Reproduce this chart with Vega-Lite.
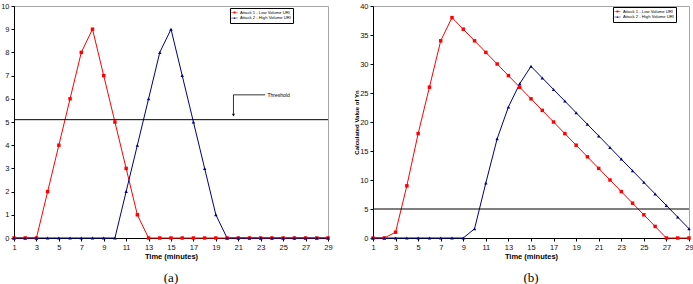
{
  "$schema": "https://vega.github.io/schema/vega-lite/v6.json",
  "padding": {"left": 0, "top": 1, "right": 0, "bottom": 0},
  "background": "white",
  "datasets": {
    "a": [
      {"t": 1, "series": "Attack 1 - Low Volume URI", "v": 0},
      {"t": 2, "series": "Attack 1 - Low Volume URI", "v": 0},
      {"t": 3, "series": "Attack 1 - Low Volume URI", "v": 0},
      {"t": 4, "series": "Attack 1 - Low Volume URI", "v": 2},
      {"t": 5, "series": "Attack 1 - Low Volume URI", "v": 4},
      {"t": 6, "series": "Attack 1 - Low Volume URI", "v": 6},
      {"t": 7, "series": "Attack 1 - Low Volume URI", "v": 8},
      {"t": 8, "series": "Attack 1 - Low Volume URI", "v": 9},
      {"t": 9, "series": "Attack 1 - Low Volume URI", "v": 7},
      {"t": 10, "series": "Attack 1 - Low Volume URI", "v": 5},
      {"t": 11, "series": "Attack 1 - Low Volume URI", "v": 3},
      {"t": 12, "series": "Attack 1 - Low Volume URI", "v": 1},
      {"t": 13, "series": "Attack 1 - Low Volume URI", "v": 0},
      {"t": 14, "series": "Attack 1 - Low Volume URI", "v": 0},
      {"t": 15, "series": "Attack 1 - Low Volume URI", "v": 0},
      {"t": 16, "series": "Attack 1 - Low Volume URI", "v": 0},
      {"t": 17, "series": "Attack 1 - Low Volume URI", "v": 0},
      {"t": 18, "series": "Attack 1 - Low Volume URI", "v": 0},
      {"t": 19, "series": "Attack 1 - Low Volume URI", "v": 0},
      {"t": 20, "series": "Attack 1 - Low Volume URI", "v": 0},
      {"t": 21, "series": "Attack 1 - Low Volume URI", "v": 0},
      {"t": 22, "series": "Attack 1 - Low Volume URI", "v": 0},
      {"t": 23, "series": "Attack 1 - Low Volume URI", "v": 0},
      {"t": 24, "series": "Attack 1 - Low Volume URI", "v": 0},
      {"t": 25, "series": "Attack 1 - Low Volume URI", "v": 0},
      {"t": 26, "series": "Attack 1 - Low Volume URI", "v": 0},
      {"t": 27, "series": "Attack 1 - Low Volume URI", "v": 0},
      {"t": 28, "series": "Attack 1 - Low Volume URI", "v": 0},
      {"t": 29, "series": "Attack 1 - Low Volume URI", "v": 0},
      {"t": 1, "series": "Attack 2 - High Volume URI", "v": 0},
      {"t": 2, "series": "Attack 2 - High Volume URI", "v": 0},
      {"t": 3, "series": "Attack 2 - High Volume URI", "v": 0},
      {"t": 4, "series": "Attack 2 - High Volume URI", "v": 0},
      {"t": 5, "series": "Attack 2 - High Volume URI", "v": 0},
      {"t": 6, "series": "Attack 2 - High Volume URI", "v": 0},
      {"t": 7, "series": "Attack 2 - High Volume URI", "v": 0},
      {"t": 8, "series": "Attack 2 - High Volume URI", "v": 0},
      {"t": 9, "series": "Attack 2 - High Volume URI", "v": 0},
      {"t": 10, "series": "Attack 2 - High Volume URI", "v": 0},
      {"t": 11, "series": "Attack 2 - High Volume URI", "v": 2},
      {"t": 12, "series": "Attack 2 - High Volume URI", "v": 4},
      {"t": 13, "series": "Attack 2 - High Volume URI", "v": 6},
      {"t": 14, "series": "Attack 2 - High Volume URI", "v": 8},
      {"t": 15, "series": "Attack 2 - High Volume URI", "v": 9},
      {"t": 16, "series": "Attack 2 - High Volume URI", "v": 7},
      {"t": 17, "series": "Attack 2 - High Volume URI", "v": 5},
      {"t": 18, "series": "Attack 2 - High Volume URI", "v": 3},
      {"t": 19, "series": "Attack 2 - High Volume URI", "v": 1},
      {"t": 20, "series": "Attack 2 - High Volume URI", "v": 0},
      {"t": 21, "series": "Attack 2 - High Volume URI", "v": 0},
      {"t": 22, "series": "Attack 2 - High Volume URI", "v": 0},
      {"t": 23, "series": "Attack 2 - High Volume URI", "v": 0},
      {"t": 24, "series": "Attack 2 - High Volume URI", "v": 0},
      {"t": 25, "series": "Attack 2 - High Volume URI", "v": 0},
      {"t": 26, "series": "Attack 2 - High Volume URI", "v": 0},
      {"t": 27, "series": "Attack 2 - High Volume URI", "v": 0},
      {"t": 28, "series": "Attack 2 - High Volume URI", "v": 0},
      {"t": 29, "series": "Attack 2 - High Volume URI", "v": 0}
    ],
    "b": [
      {"t": 1, "series": "Attack 1 - Low Volume URI", "v": 0},
      {"t": 2, "series": "Attack 1 - Low Volume URI", "v": 0},
      {"t": 3, "series": "Attack 1 - Low Volume URI", "v": 1},
      {"t": 4, "series": "Attack 1 - Low Volume URI", "v": 9},
      {"t": 5, "series": "Attack 1 - Low Volume URI", "v": 18},
      {"t": 6, "series": "Attack 1 - Low Volume URI", "v": 26},
      {"t": 7, "series": "Attack 1 - Low Volume URI", "v": 34},
      {"t": 8, "series": "Attack 1 - Low Volume URI", "v": 38},
      {"t": 9, "series": "Attack 1 - Low Volume URI", "v": 36},
      {"t": 10, "series": "Attack 1 - Low Volume URI", "v": 34},
      {"t": 11, "series": "Attack 1 - Low Volume URI", "v": 32},
      {"t": 12, "series": "Attack 1 - Low Volume URI", "v": 30},
      {"t": 13, "series": "Attack 1 - Low Volume URI", "v": 28},
      {"t": 14, "series": "Attack 1 - Low Volume URI", "v": 26},
      {"t": 15, "series": "Attack 1 - Low Volume URI", "v": 24},
      {"t": 16, "series": "Attack 1 - Low Volume URI", "v": 22},
      {"t": 17, "series": "Attack 1 - Low Volume URI", "v": 20},
      {"t": 18, "series": "Attack 1 - Low Volume URI", "v": 18},
      {"t": 19, "series": "Attack 1 - Low Volume URI", "v": 16},
      {"t": 20, "series": "Attack 1 - Low Volume URI", "v": 14},
      {"t": 21, "series": "Attack 1 - Low Volume URI", "v": 12},
      {"t": 22, "series": "Attack 1 - Low Volume URI", "v": 10},
      {"t": 23, "series": "Attack 1 - Low Volume URI", "v": 8},
      {"t": 24, "series": "Attack 1 - Low Volume URI", "v": 6},
      {"t": 25, "series": "Attack 1 - Low Volume URI", "v": 4},
      {"t": 26, "series": "Attack 1 - Low Volume URI", "v": 2},
      {"t": 27, "series": "Attack 1 - Low Volume URI", "v": 0},
      {"t": 28, "series": "Attack 1 - Low Volume URI", "v": 0},
      {"t": 29, "series": "Attack 1 - Low Volume URI", "v": 0},
      {"t": 1, "series": "Attack 2 - High Volume URI", "v": 0},
      {"t": 2, "series": "Attack 2 - High Volume URI", "v": 0},
      {"t": 3, "series": "Attack 2 - High Volume URI", "v": 0},
      {"t": 4, "series": "Attack 2 - High Volume URI", "v": 0},
      {"t": 5, "series": "Attack 2 - High Volume URI", "v": 0},
      {"t": 6, "series": "Attack 2 - High Volume URI", "v": 0},
      {"t": 7, "series": "Attack 2 - High Volume URI", "v": 0},
      {"t": 8, "series": "Attack 2 - High Volume URI", "v": 0},
      {"t": 9, "series": "Attack 2 - High Volume URI", "v": 0},
      {"t": 10, "series": "Attack 2 - High Volume URI", "v": 1.6},
      {"t": 11, "series": "Attack 2 - High Volume URI", "v": 9.5},
      {"t": 12, "series": "Attack 2 - High Volume URI", "v": 17.1},
      {"t": 13, "series": "Attack 2 - High Volume URI", "v": 22.6},
      {"t": 14, "series": "Attack 2 - High Volume URI", "v": 26.6},
      {"t": 15, "series": "Attack 2 - High Volume URI", "v": 29.6},
      {"t": 16, "series": "Attack 2 - High Volume URI", "v": 27.6},
      {"t": 17, "series": "Attack 2 - High Volume URI", "v": 25.6},
      {"t": 18, "series": "Attack 2 - High Volume URI", "v": 23.6},
      {"t": 19, "series": "Attack 2 - High Volume URI", "v": 21.6},
      {"t": 20, "series": "Attack 2 - High Volume URI", "v": 19.6},
      {"t": 21, "series": "Attack 2 - High Volume URI", "v": 17.6},
      {"t": 22, "series": "Attack 2 - High Volume URI", "v": 15.6},
      {"t": 23, "series": "Attack 2 - High Volume URI", "v": 13.6},
      {"t": 24, "series": "Attack 2 - High Volume URI", "v": 11.6},
      {"t": 25, "series": "Attack 2 - High Volume URI", "v": 9.6},
      {"t": 26, "series": "Attack 2 - High Volume URI", "v": 7.6},
      {"t": 27, "series": "Attack 2 - High Volume URI", "v": 5.6},
      {"t": 28, "series": "Attack 2 - High Volume URI", "v": 3.6},
      {"t": 29, "series": "Attack 2 - High Volume URI", "v": 1.6}
    ],
    "thresholdA": [{"v": 5.1}],
    "thresholdB": [{"v": 5}],
    "arrow": [
      {"t": 23.4, "v": 6.17, "k": 0},
      {"t": 20.57, "v": 6.17, "k": 1},
      {"t": 20.57, "v": 5.35, "k": 2}
    ],
    "arrowhead": [
      {"t": 20.57, "v": 5.3}
    ],
    "note": [
      {"t": 23.6, "v": 6.17, "label": "Threshold"}
    ]
  },
  "hconcat": [
    {
      "width": 314,
      "height": 232,
      "title": {"text": "(a)", "orient": "bottom", "anchor": "middle", "font": "Liberation Serif", "fontSize": 13, "fontWeight": "normal", "color": "black", "offset": 12},
      "layer": [
        {
          "data": {"name": "a"},
          "mark": {"type": "line", "strokeWidth": 1},
          "encoding": {
            "x": {"field": "t", "type": "quantitative", "title": "Time (minutes)", "scale": {"domain": [1, 29], "nice": false, "zero": false}, "axis": {"values": [1, 3, 5, 7, 9, 11, 13, 15, 17, 19, 21, 23, 25, 27, 29]}},
            "y": {"field": "v", "type": "quantitative", "title": null, "scale": {"domain": [0, 10], "nice": false}, "axis": {"values": [0, 1, 2, 3, 4, 5, 6, 7, 8, 9, 10]}},
            "color": {"field": "series", "type": "nominal", "scale": {"domain": ["Attack 1 - Low Volume URI", "Attack 2 - High Volume URI"], "range": ["#ff0000", "#000080"]}, "legend": null}
          }
        },
        {
          "data": {"name": "thresholdA"},
          "mark": {"type": "rule", "color": "black", "strokeWidth": 1},
          "encoding": {"y": {"field": "v", "type": "quantitative", "title": null, "axis": {"values": [0, 1, 2, 3, 4, 5, 6, 7, 8, 9, 10]}}}
        },
        {
          "data": {"name": "a"},
          "mark": {"type": "point", "filled": true, "size": 12, "opacity": 1},
          "encoding": {
            "x": {"field": "t", "type": "quantitative", "title": "Time (minutes)", "axis": {"values": [1, 3, 5, 7, 9, 11, 13, 15, 17, 19, 21, 23, 25, 27, 29]}},
            "y": {"field": "v", "type": "quantitative", "title": null, "axis": {"values": [0, 1, 2, 3, 4, 5, 6, 7, 8, 9, 10]}},
            "color": {"field": "series", "type": "nominal", "scale": {"domain": ["Attack 1 - Low Volume URI", "Attack 2 - High Volume URI"], "range": ["#ff0000", "#000080"]}, "legend": null},
            "shape": {"field": "series", "type": "nominal", "scale": {"domain": ["Attack 1 - Low Volume URI", "Attack 2 - High Volume URI"], "range": ["square", "triangle-up"]}, "legend": null}
          }
        },
        {
          "data": {"name": "a"},
          "mark": {"type": "point", "filled": true, "size": 30, "opacity": 0},
          "encoding": {
            "x": {"field": "t", "type": "quantitative", "title": "Time (minutes)", "axis": {"values": [1, 3, 5, 7, 9, 11, 13, 15, 17, 19, 21, 23, 25, 27, 29]}},
            "y": {"field": "v", "type": "quantitative", "title": null, "axis": {"values": [0, 1, 2, 3, 4, 5, 6, 7, 8, 9, 10]}},
            "color": {"field": "series", "type": "nominal", "scale": {"domain": ["Attack 1 - Low Volume URI", "Attack 2 - High Volume URI"], "range": ["#ff0000", "#000080"]}, "legend": {"orient": "none", "legendX": 216, "legendY": 2, "title": null, "symbolOpacity": 1}},
            "shape": {"field": "series", "type": "nominal", "scale": {"domain": ["Attack 1 - Low Volume URI", "Attack 2 - High Volume URI"], "range": ["M-1.3,-0.09H1.3V0.09H-1.3Z M-0.38,-0.38H0.38V0.38H-0.38Z", "M-1.3,-0.09H1.3V0.09H-1.3Z M0,-0.42L0.42,0.34H-0.42Z"]}, "legend": {"orient": "none", "legendX": 216, "legendY": 2, "title": null, "symbolOpacity": 1}}
          }
        },
        {
          "data": {"name": "arrow"},
          "mark": {"type": "line", "color": "black", "strokeWidth": 0.8},
          "encoding": {
            "x": {"field": "t", "type": "quantitative", "title": "Time (minutes)", "axis": {"values": [1, 3, 5, 7, 9, 11, 13, 15, 17, 19, 21, 23, 25, 27, 29]}},
            "y": {"field": "v", "type": "quantitative", "title": null, "axis": {"values": [0, 1, 2, 3, 4, 5, 6, 7, 8, 9, 10]}},
            "order": {"field": "k"}
          }
        },
        {
          "data": {"name": "arrowhead"},
          "mark": {"type": "point", "shape": "triangle-down", "filled": true, "color": "black", "size": 10, "opacity": 1},
          "encoding": {
            "x": {"field": "t", "type": "quantitative", "title": "Time (minutes)", "axis": {"values": [1, 3, 5, 7, 9, 11, 13, 15, 17, 19, 21, 23, 25, 27, 29]}},
            "y": {"field": "v", "type": "quantitative", "title": null, "axis": {"values": [0, 1, 2, 3, 4, 5, 6, 7, 8, 9, 10]}}
          }
        },
        {
          "data": {"name": "note"},
          "mark": {"type": "text", "align": "left", "baseline": "middle", "font": "Liberation Sans", "fontSize": 5, "color": "black"},
          "encoding": {
            "x": {"field": "t", "type": "quantitative", "title": "Time (minutes)", "axis": {"values": [1, 3, 5, 7, 9, 11, 13, 15, 17, 19, 21, 23, 25, 27, 29]}},
            "y": {"field": "v", "type": "quantitative", "title": null, "axis": {"values": [0, 1, 2, 3, 4, 5, 6, 7, 8, 9, 10]}},
            "text": {"field": "label"}
          }
        }
      ],
      "resolve": {"scale": {"shape": "independent", "color": "independent"}, "legend": {"shape": "independent", "color": "independent"}}
    },
    {
      "width": 316,
      "height": 232,
      "title": {"text": "(b)", "orient": "bottom", "anchor": "middle", "font": "Liberation Serif", "fontSize": 13, "fontWeight": "normal", "color": "black", "offset": 12},
      "layer": [
        {
          "data": {"name": "b"},
          "mark": {"type": "line", "strokeWidth": 1},
          "encoding": {
            "x": {"field": "t", "type": "quantitative", "title": "Time (minutes)", "scale": {"domain": [1, 29], "nice": false, "zero": false}, "axis": {"values": [1, 3, 5, 7, 9, 11, 13, 15, 17, 19, 21, 23, 25, 27, 29]}},
            "y": {"field": "v", "type": "quantitative", "title": "Calculated Value of Yn", "scale": {"domain": [0, 40], "nice": false}, "axis": {"values": [0, 5, 10, 15, 20, 25, 30, 35, 40]}},
            "color": {"field": "series", "type": "nominal", "scale": {"domain": ["Attack 1 - Low Volume URI", "Attack 2 - High Volume URI"], "range": ["#ff0000", "#000080"]}, "legend": null}
          }
        },
        {
          "data": {"name": "thresholdB"},
          "mark": {"type": "rule", "color": "black", "strokeWidth": 1},
          "encoding": {"y": {"field": "v", "type": "quantitative", "title": "Calculated Value of Yn", "axis": {"values": [0, 5, 10, 15, 20, 25, 30, 35, 40]}}}
        },
        {
          "data": {"name": "b"},
          "mark": {"type": "point", "filled": true, "size": 12, "opacity": 1},
          "encoding": {
            "x": {"field": "t", "type": "quantitative", "title": "Time (minutes)", "axis": {"values": [1, 3, 5, 7, 9, 11, 13, 15, 17, 19, 21, 23, 25, 27, 29]}},
            "y": {"field": "v", "type": "quantitative", "title": "Calculated Value of Yn", "axis": {"values": [0, 5, 10, 15, 20, 25, 30, 35, 40]}},
            "color": {"field": "series", "type": "nominal", "scale": {"domain": ["Attack 1 - Low Volume URI", "Attack 2 - High Volume URI"], "range": ["#ff0000", "#000080"]}, "legend": null},
            "shape": {"field": "series", "type": "nominal", "scale": {"domain": ["Attack 1 - Low Volume URI", "Attack 2 - High Volume URI"], "range": ["square", "triangle-up"]}, "legend": null}
          }
        },
        {
          "data": {"name": "b"},
          "mark": {"type": "point", "filled": true, "size": 30, "opacity": 0},
          "encoding": {
            "x": {"field": "t", "type": "quantitative", "title": "Time (minutes)", "axis": {"values": [1, 3, 5, 7, 9, 11, 13, 15, 17, 19, 21, 23, 25, 27, 29]}},
            "y": {"field": "v", "type": "quantitative", "title": "Calculated Value of Yn", "axis": {"values": [0, 5, 10, 15, 20, 25, 30, 35, 40]}},
            "color": {"field": "series", "type": "nominal", "scale": {"domain": ["Attack 1 - Low Volume URI", "Attack 2 - High Volume URI"], "range": ["#ff0000", "#000080"]}, "legend": {"orient": "none", "legendX": 240, "legendY": 1, "title": null, "symbolOpacity": 1}},
            "shape": {"field": "series", "type": "nominal", "scale": {"domain": ["Attack 1 - Low Volume URI", "Attack 2 - High Volume URI"], "range": ["M-1.3,-0.09H1.3V0.09H-1.3Z M-0.38,-0.38H0.38V0.38H-0.38Z", "M-1.3,-0.09H1.3V0.09H-1.3Z M0,-0.42L0.42,0.34H-0.42Z"]}, "legend": {"orient": "none", "legendX": 240, "legendY": 1, "title": null, "symbolOpacity": 1}}
          }
        }
      ],
      "resolve": {"scale": {"shape": "independent", "color": "independent"}, "legend": {"shape": "independent", "color": "independent"}}
    }
  ],
  "spacing": 20,
  "resolve": {"scale": {"color": "independent", "shape": "independent"}, "legend": {"color": "independent", "shape": "independent"}},
  "config": {
    "view": {"stroke": "#a6a6a6", "strokeWidth": 1},
    "axis": {
      "grid": false,
      "labelFont": "Liberation Sans",
      "labelFontSize": 7.5,
      "labelColor": "#111111",
      "labelPadding": 2,
      "labelFlush": false,
      "labelOverlap": false,
      "domainColor": "#000000",
      "domainWidth": 1,
      "tickColor": "#000000",
      "tickSize": 3,
      "tickWidth": 1,
      "titleFont": "Liberation Sans",
      "titleFontSize": 7.5,
      "titleFontWeight": "bold",
      "titleColor": "#000000"
    },
    "axisX": {"titlePadding": 2},
    "axisY": {"titlePadding": 0, "titleFontSize": 6},
    "legend": {
      "labelFont": "Liberation Sans",
      "labelFontSize": 4.2,
      "labelColor": "#000000",
      "strokeColor": "#000000",
      "fillColor": "#ffffff",
      "padding": 2,
      "rowPadding": 0.5,
      "symbolSize": 24,
      "labelOffset": 3,
      "symbolStrokeWidth": 0
    }
  }
}
